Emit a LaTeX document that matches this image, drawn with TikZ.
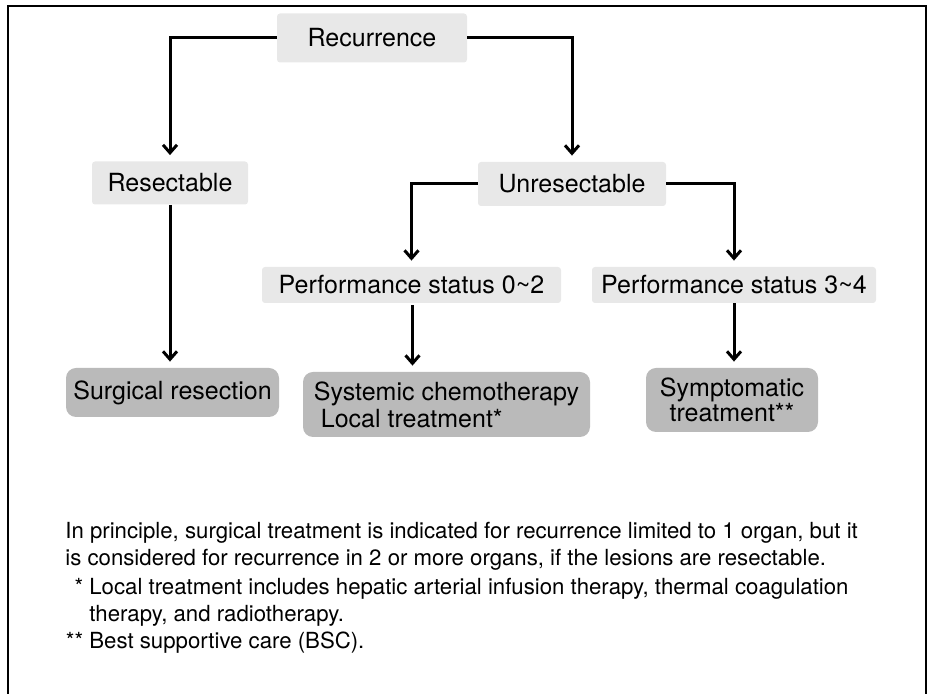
\documentclass[tikz,border=0pt]{standalone}
\usepackage{fontspec}
\setmainfont{TeX Gyre Heros}
\usetikzlibrary{arrows.meta}

\begin{document}
\begin{tikzpicture}[x=0.5pt, y=-0.5pt,
		lightbox/.style={fill=black!9, rounded corners=1.5pt, inner sep=0pt, font=\fontsize{12.5}{14}\selectfont},
		darkbox/.style={fill=black!27, rounded corners=5pt, inner sep=0pt, align=left, font=\fontsize{12.5}{13.5}\selectfont},
		arr/.style={line width=1.5pt, -{Straight Barb[length=4pt, width=7pt, line width=1.5pt]}, shorten >=3pt},
		notetext/.style={anchor=base west, inner sep=0pt, align=left, font=\fontsize{11.1}{13.5}\selectfont}]
			%%%%% START %%%%%
			\useasboundingbox (0, 0) rectangle (928, 694);
			
			\draw[line width=1pt] (8, 694) -- (8, 6) -- (926, 6) -- (926, 694);
			
			\node[lightbox, minimum width=95pt, minimum height=24.5pt] (rec) at (372, 38) {Recurrence};
			
			\node[lightbox, minimum width=78pt, minimum height=21.5pt] (res) at (170, 183) {Resectable};
			\node[lightbox, minimum width=94pt, minimum height=22pt] (unres) at (572, 184) {Unresectable};
			
			\node[lightbox, minimum width=149.5pt, minimum height=18pt] (ps02) at (411.5, 285) {Performance status 0\textasciitilde2};
			\node[lightbox, minimum width=142pt, minimum height=18pt] (ps34) at (734, 285) {Performance status 3\textasciitilde4};
			
			\node[darkbox, minimum width=106.5pt, minimum height=24.5pt] (surg) at (172.5, 392.5) {Surgical resection};
			\node[darkbox, minimum width=143.5pt, minimum height=32.5pt] (sys) at (446.5, 404.5) {Systemic chemotherapy\\ \ Local treatment*};
			\node[darkbox, align=center, minimum width=86pt, minimum height=32pt, font=\fontsize{12.5}{12.5}\selectfont] (sym) at (732, 400) {Symptomatic\\treatment**};
			
			\draw[arr] (rec.west) -| (res.north);
			\draw[arr] (rec.east) -| (unres.north);
			\draw[arr] (unres.west) -| (ps02.north);
			\draw[arr] (unres.east) -| (ps34.north);
			
			\draw[arr] (res.south) -- (res.south |- surg.north);
			\draw[arr] (ps02.south) ++(1, 2) coordinate (ps02b) -- (ps02b |- sys.north);
			\draw[arr] (ps34.south) -- (ps34.south |- sym.north);
			
			% notes below the chart (base = last line)
			\node[notetext] (note) at (65, 566) {In principle, surgical treatment is indicated for recurrence limited to 1 organ, but it\\is considered for recurrence in 2 or more organs, if the lesions are resectable.};
			\node[notetext] (fn1) at (89, 622) {\llap{*\ }Local treatment includes hepatic arterial infusion therapy, thermal coagulation\\therapy, and radiotherapy.};
			\node[notetext] (fn2) at (89, 649) {\llap{**\ }Best supportive care (BSC).};
			%%%%% END %%%%%
\end{tikzpicture}
\end{document}
